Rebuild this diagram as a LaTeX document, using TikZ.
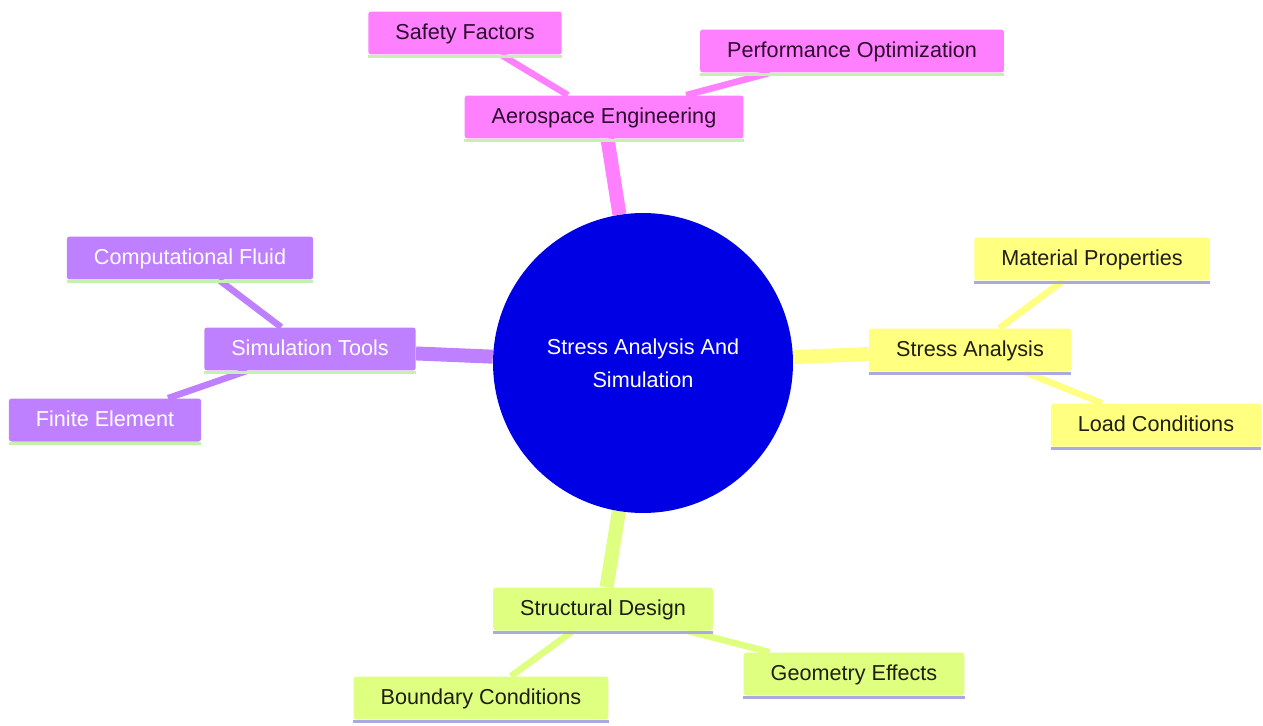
\documentclass[tikz,border=0pt]{standalone}
\usepackage{fontspec}
\setmainfont{Liberation Sans}
\usetikzlibrary{backgrounds}

\definecolor{hubblue}{RGB}{0,0,228}
\definecolor{aeropink}{RGB}{255,128,255}
\definecolor{simpurple}{RGB}{191,128,255}
\definecolor{stressyellow}{RGB}{255,255,128}
\definecolor{designgreen}{RGB}{222,255,128}
\definecolor{rulegreen}{RGB}{196,240,176}
\definecolor{rulelilac}{RGB}{170,170,225}
\definecolor{inkpink}{RGB}{45,10,45}
\definecolor{inkdark}{RGB}{30,30,20}

\tikzset{
  hub/.style={circle, fill=hubblue, text=white, minimum size=6cm, inner sep=0pt,
    align=center, font=\fontsize{12.3}{18.7}\selectfont},
  idea/.style 2 args={rectangle, rounded corners=1.5pt, fill=#1, minimum height=0.86cm,
    inner xsep=0.54cm, inner ysep=0pt, text height=0.9em, text depth=0.2em,
    font=\fontsize{12.3}{15}\selectfont,
    append after command={([yshift=-0.03cm]\tikzlastnode.south west)
      edge[draw=#2, line width=0.06cm] ([yshift=-0.03cm]\tikzlastnode.south east)}},
  aero/.style={idea={aeropink}{rulegreen}, text=inkpink},
  sim/.style={idea={simpurple}{rulegreen}, text=white},
  stress/.style={idea={stressyellow}{rulelilac}, text=inkdark},
  design/.style={idea={designgreen}{rulelilac}, text=inkdark},
  trunk/.style={line width=0.28cm},
  twig/.style={line width=0.13cm},
}

\begin{document}
\begin{tikzpicture}[x=0.02cm, y=-0.02cm]
  \useasboundingbox (0,0) rectangle (1263,726);

  % centre
  \node [hub] (root) at (643,363) {Stress Analysis And\\Simulation};

  % main topics
  \node [aero] (aerospace) at (604,117) {Aerospace Engineering};
  \node [stress] (stressan) at (970,350) {Stress Analysis};
  \node [sim] (simtools) at (310,349) {Simulation Tools};
  \node [design] (structural) at (603,609) {Structural Design};

  % leaves
  \node [aero] (safety) at (465,33) {Safety Factors};
  \node [aero] (perform) at (852,51) {Performance Optimization};
  \node [stress] (material) at (1092,259) {Material Properties};
  \node [stress] (load) at (1156,425) {Load Conditions};
  \node [sim] (cfd) at (190,258) {Computational Fluid};
  \node [sim] (fem) at (105,420) {Finite Element};
  \node [design] (boundary) at (481,698) {Boundary Conditions};
  \node [design] (geometry) at (854,674) {Geometry Effects};

  \begin{scope}[on background layer]
    \draw [trunk, aeropink] (root) -- (aerospace);
    \draw [trunk, stressyellow] (root) -- (stressan);
    \draw [trunk, simpurple] (root) -- (simtools);
    \draw [trunk, designgreen] (root) -- (structural);

    \draw [twig, aeropink] (aerospace) -- (safety);
    \draw [twig, aeropink] (aerospace) -- (perform);
    \draw [twig, stressyellow] (stressan) -- (material);
    \draw [twig, stressyellow] (stressan) -- (load);
    \draw [twig, simpurple] (simtools) -- (cfd);
    \draw [twig, simpurple] (simtools) -- (fem);
    \draw [twig, designgreen] (structural) -- (boundary);
    \draw [twig, designgreen] (structural) -- (geometry);
  \end{scope}
\end{tikzpicture}
\end{document}
